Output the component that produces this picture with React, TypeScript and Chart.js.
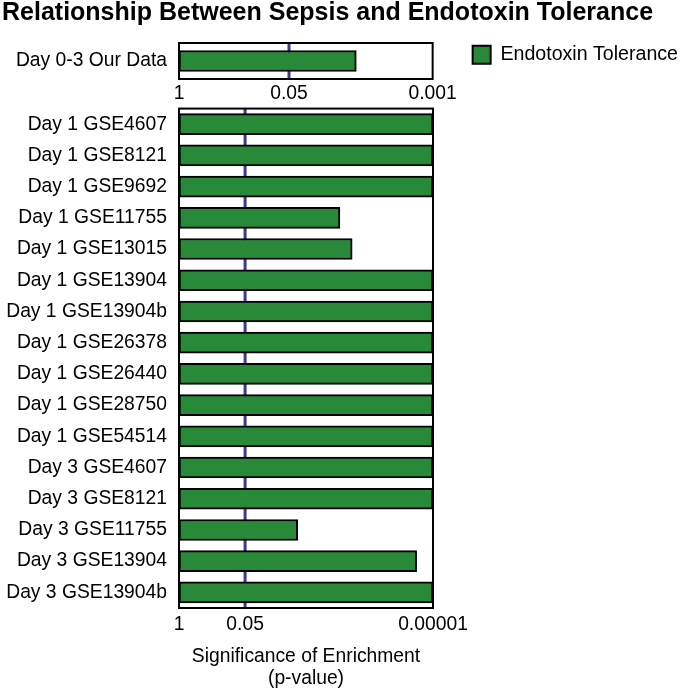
import React, { useEffect, useRef } from 'react';
import { Chart, registerables } from 'chart.js';

Chart.register(...registerables);

const TITLE = 'Relationship Between Sepsis and Endotoxin Tolerance';
const SERIES_NAME = 'Endotoxin Tolerance';

const TOP_CATEGORIES = ['Day 0-3 Our Data'];
const TOP_PVALUES = [0.008];
const TOP_TICK_P = [1, 0.05, 0.001];
const TOP_TICK_LABELS = ['1', '0.05', '0.001'];

const BOTTOM_CATEGORIES = [
  'Day 1 GSE4607',
  'Day 1 GSE8121',
  'Day 1 GSE9692',
  'Day 1 GSE11755',
  'Day 1 GSE13015',
  'Day 1 GSE13904',
  'Day 1 GSE13904b',
  'Day 1 GSE26378',
  'Day 1 GSE26440',
  'Day 1 GSE28750',
  'Day 1 GSE54514',
  'Day 3 GSE4607',
  'Day 3 GSE8121',
  'Day 3 GSE11755',
  'Day 3 GSE13904',
  'Day 3 GSE13904b',
];
const BOTTOM_PVALUES = [
  0.00001, 0.00001, 0.00001, 0.00068, 0.00039, 0.00001, 0.00001, 0.00001,
  0.00001, 0.00001, 0.00001, 0.00001, 0.00001, 0.0046, 0.000021, 0.00001,
];
const BOTTOM_TICK_P = [1, 0.05, 0.00001];
const BOTTOM_TICK_LABELS = ['1', '0.05', '0.00001'];

const THRESHOLD_P = 0.05;
const AXIS_TITLE = ['Significance of Enrichment', '(p-value)'];

const GREEN = '#288a38';
const LINE_COLOR = '#3b3a8e';
const FONT = '"Liberation Sans", Arial, Helvetica, sans-serif';
const FS = 19.3;

const toSig = (p: number) => (p >= 1 ? 0 : -Math.log10(p));

const framePlugin = {
  id: 'frame',
  beforeDatasetsDraw(chart: any) {
    const { ctx, chartArea, scales } = chart;
    const x = scales.x.getPixelForValue(toSig(THRESHOLD_P));
    ctx.save();
    ctx.strokeStyle = LINE_COLOR;
    ctx.lineWidth = 3;
    ctx.beginPath();
    ctx.moveTo(x, chartArea.top);
    ctx.lineTo(x, chartArea.bottom);
    ctx.stroke();
    ctx.restore();
  },
  afterDatasetsDraw(chart: any) {
    const { ctx, chartArea } = chart;
    ctx.save();
    ctx.strokeStyle = '#000';
    ctx.lineWidth = 2;
    ctx.strokeRect(chartArea.left, chartArea.top, chartArea.right - chartArea.left, chartArea.bottom - chartArea.top);
    ctx.restore();
  },
};

function makeConfig(opts: {
  categories: string[];
  pvalues: number[];
  tickP: number[];
  tickLabels: string[];
  top: boolean;
}) {
  const { categories, pvalues, tickP, tickLabels, top } = opts;
  const max = toSig(tickP[tickP.length - 1]);
  const scales: any = {
    x: {
      type: 'linear',
      min: 0,
      max,
      grid: { display: false, drawTicks: false },
      border: { display: false },
      afterBuildTicks: (s: any) => {
        s.ticks = tickP.map((p) => ({ value: toSig(p) }));
      },
      afterFit: (s: any) => {
        s.height = top ? 26 : 84;
      },
      ticks: {
        autoSkip: false,
        maxRotation: 0,
        padding: top ? 3 : 5,
        color: '#000',
        font: { family: FONT, size: FS },
        callback: (_v: any, i: number) => tickLabels[i],
      },
      title: top
        ? { display: false }
        : {
            display: true,
            text: AXIS_TITLE,
            color: '#000',
            font: { family: FONT, size: FS, lineHeight: 22 / FS },
            padding: { top: 0, bottom: 2 },
          },
    },
    y: {
      type: 'category',
      grid: { display: false, drawTicks: false },
      border: { display: false },
      afterFit: (s: any) => {
        s.width = 177;
      },
      ticks: {
        padding: 12,
        color: '#000',
        font: { family: FONT, size: FS },
      },
    },
  };
  if (top) {
    scales.y2 = {
      type: 'linear',
      position: 'right',
      display: true,
      grid: { display: false, drawTicks: false },
      border: { display: false },
      ticks: { display: false },
      afterFit: (s: any) => {
        s.width = 38;
      },
    };
  }
  return {
    type: 'bar' as const,
    data: {
      labels: categories,
      datasets: [
        {
          label: SERIES_NAME,
          data: pvalues.map(toSig),
          backgroundColor: GREEN,
          borderColor: '#000',
          borderWidth: 2,
          borderSkipped: false,
          barThickness: 21,
        },
      ],
    },
    options: {
      indexAxis: 'y' as const,
      responsive: false,
      animation: false as const,
      scales,
      layout: {
        padding: top
          ? { left: 2, right: 0, top: 0, bottom: 0 }
          : { left: 2, right: 255, top: 23, bottom: 0 },
      },
      plugins: {
        title: top
          ? {
              display: true,
              text: TITLE,
              align: 'start' as const,
              color: '#000',
              font: { family: FONT, size: 25, weight: 'bold' as const, lineHeight: 1 },
              padding: { top: 1, bottom: 17 },
            }
          : { display: false },
        legend: top
          ? {
              display: true,
              position: 'right' as const,
              align: 'start' as const,
              fullSize: false,
              maxWidth: 260,
              labels: {
                boxWidth: 18,
                boxHeight: 18,
                padding: 2,
                color: '#000',
                font: { family: FONT, size: 19.6 },
              },
            }
          : { display: false },
        tooltip: { enabled: false },
      },
    },
    plugins: [framePlugin],
  };
}

function Panel(props: { top: boolean; y: number; height: number }) {
  const ref = useRef<HTMLCanvasElement | null>(null);
  useEffect(() => {
    if (!ref.current) return;
    const cfg = props.top
      ? makeConfig({
          categories: TOP_CATEGORIES,
          pvalues: TOP_PVALUES,
          tickP: TOP_TICK_P,
          tickLabels: TOP_TICK_LABELS,
          top: true,
        })
      : makeConfig({
          categories: BOTTOM_CATEGORIES,
          pvalues: BOTTOM_PVALUES,
          tickP: BOTTOM_TICK_P,
          tickLabels: BOTTOM_TICK_LABELS,
          top: false,
        });
    const chart = new Chart(ref.current, cfg as any);
    return () => chart.destroy();
  }, [props.top]);
  return (
    <canvas
      ref={ref}
      width={688}
      height={props.height}
      style={{ position: 'absolute', left: 0, top: props.y, width: 688, height: props.height }}
    />
  );
}

export default function App() {
  return (
    <div style={{ position: 'fixed', left: 0, top: 0, width: 688, height: 692, background: '#fff' }}>
      <Panel top={false} y={85} height={607} />
      <Panel top={true} y={0} height={105} />
    </div>
  );
}
